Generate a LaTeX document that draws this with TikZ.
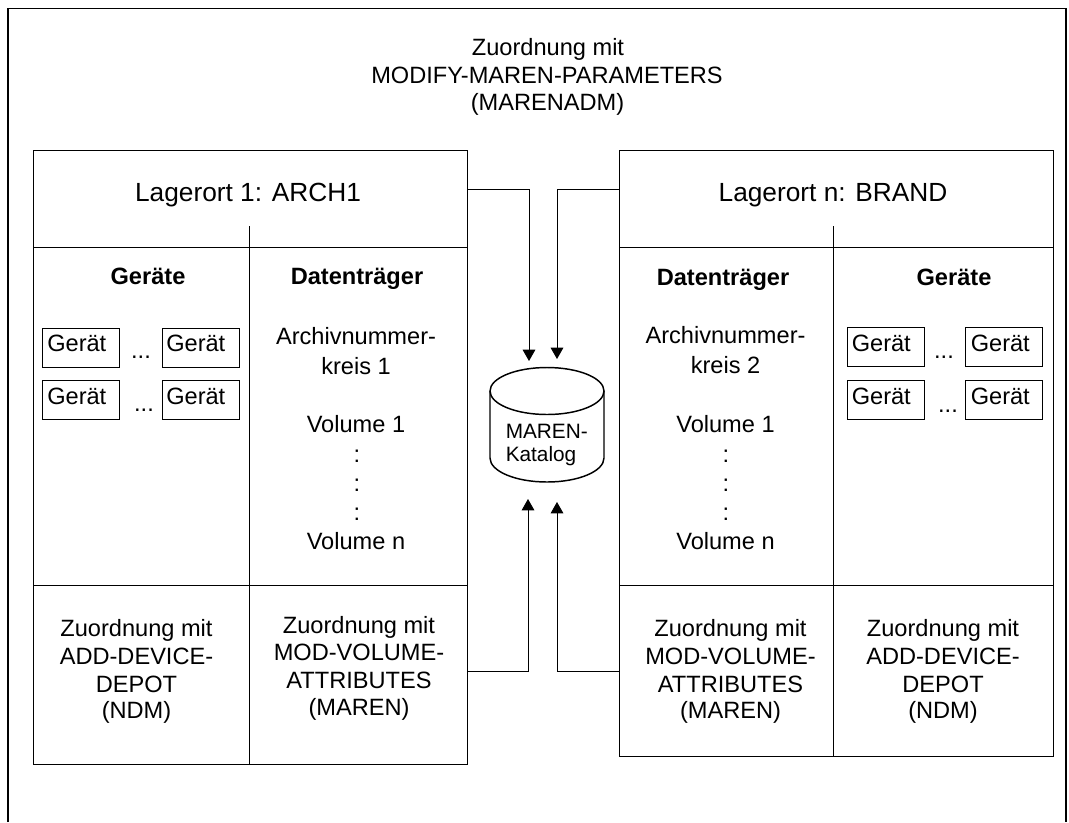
\documentclass[tikz,border=0pt]{standalone}
\usepackage{fontspec}
\setmainfont{Liberation Sans}
\usetikzlibrary{arrows.meta}
\tikzset{
  x=0.75pt,y=-0.75pt,
  cell/.style 2 args={draw=black,line width=0.75pt,minimum width=#1*0.75pt,minimum height=#2*0.75pt,inner sep=0pt,outer sep=0pt},
  geraet/.style={draw=black,line width=0.6pt,minimum width=77*0.75pt,minimum height=39*0.75pt,inner sep=0pt,outer sep=0pt},
  big/.style={font=\fontsize{19.7pt}{24pt}\selectfont,inner sep=0pt,anchor=base},
  txt/.style={font=\fontsize{17.7pt}{21pt}\selectfont,inner sep=0pt,anchor=base},
  boldtxt/.style={font=\fontsize{17.7pt}{21pt}\selectfont\bfseries,inner sep=0pt,anchor=base},
  gtxt/.style={font=\fontsize{17.7pt}{21pt}\selectfont,inner sep=0pt,anchor=base west},
  smalltxt/.style={font=\fontsize{15.6pt}{18pt}\selectfont,inner sep=0pt,anchor=base west},
  conn/.style={draw=black,line width=0.7pt},
  arr/.style={conn,-{Triangle[length=8.5pt,width=9.5pt]}},
  cyl/.style={draw=black,line width=1.1pt},
}
\begin{document}
\begin{tikzpicture}
\useasboundingbox (0,0) rectangle (1069,822);
\fill[white] (0,0) rectangle (1069,822);
% frame
\coordinate (fbl) at (8,822);
\coordinate (ftl) at (8,8.5);
\coordinate (ftr) at (1066,8.5);
\coordinate (fbr) at (1066,822);
\draw[line width=0.9pt] (fbl) -- (ftl) -- (ftr) -- (fbr);
% title
\node[txt] (t1) at (548,55) {Zuordnung mit};
\node[txt] (t2) at (547,83) {MODIFY-MAREN-PARAMETERS};
\node[txt] (t3) at (547.5,110) {(MARENADM)};
% left block
\node[cell={434}{97}] (lagerL) at (250,198.5) {};
\node[cell={216}{338}] (gerL) at (141,416) {};
\node[cell={218}{338}] (datL) at (358,416) {};
\node[cell={216}{179}] (zuGL) at (141,674.5) {};
\node[cell={218}{179}] (zuDL) at (358,674.5) {};
\draw[conn] (gerL.north east) -- ++(0,-21);
\node[big] (lL) at (248,201) {Lagerort 1: ARCH1};
\node[boldtxt] (hGL) at (148,284) {Geräte};
\node[boldtxt] (hDL) at (357,284) {Datenträger};
\node[geraet] (g1) at (81,347.5) {};
\node[geraet] (g2) at (200.5,347.5) {};
\node[geraet] (g3) at (81,400) {};
\node[geraet] (g4) at (200.5,400) {};
\node[gtxt] at (47,351) {Gerät};
\node[gtxt] at (166,351) {Gerät};
\node[gtxt] at (47,404) {Gerät};
\node[gtxt] at (166,404) {Gerät};
\node[txt] at (141,358) {...};
\node[txt] at (144,411) {...};
\node[txt] at (356,344) {Archivnummer-};
\node[txt] at (356,374) {kreis 1};
\node[txt] at (356,432) {Volume 1};
\node[txt] at (357,462) {:};
\node[txt] at (357,491) {:};
\node[txt] at (357,520) {:};
\node[txt] at (356,549) {Volume n};
\node[txt] at (136.5,636) {Zuordnung mit};
\node[txt] at (136.5,664) {ADD-DEVICE-};
\node[txt] at (136.5,692) {DEPOT};
\node[txt] at (136.5,718) {(NDM)};
\node[txt] at (359,633) {Zuordnung mit};
\node[txt] at (359,660) {MOD-VOLUME-};
\node[txt] at (359,688) {ATTRIBUTES};
\node[txt] at (359,715) {(MAREN)};
% right block
\node[cell={434}{97}] (lagerR) at (836,198.5) {};
\node[cell={214}{338}] (datR) at (726,416) {};
\node[cell={220}{338}] (gerR) at (943,416) {};
\node[cell={214}{171}] (zuDR) at (726,670.5) {};
\node[cell={220}{171}] (zuGR) at (943,670.5) {};
\draw[conn] (gerR.north west) -- ++(0,-21);
\node[big] (lR) at (833,201) {Lagerort n: BRAND};
\node[boldtxt] (hDR) at (723,285) {Datenträger};
\node[boldtxt] (hGR) at (954,285) {Geräte};
\node[geraet] (g5) at (885.5,347) {};
\node[geraet] (g6) at (1003.5,347) {};
\node[geraet] (g7) at (885.5,400) {};
\node[geraet] (g8) at (1003.5,400) {};
\node[gtxt] at (851.5,351) {Gerät};
\node[gtxt] at (970.5,351) {Gerät};
\node[gtxt] at (851.5,404) {Gerät};
\node[gtxt] at (970.5,404) {Gerät};
\node[txt] at (944,358) {...};
\node[txt] at (948,412) {...};
\node[txt] at (725.5,343) {Archivnummer-};
\node[txt] at (725.5,373) {kreis 2};
\node[txt] at (725.5,432) {Volume 1};
\node[txt] at (726,462) {:};
\node[txt] at (726,491) {:};
\node[txt] at (726,520) {:};
\node[txt] at (725.5,549) {Volume n};
\node[txt] at (730.5,636) {Zuordnung mit};
\node[txt] at (730.5,664) {MOD-VOLUME-};
\node[txt] at (730.5,692) {ATTRIBUTES};
\node[txt] at (730.5,718) {(MAREN)};
\node[txt] at (943,636) {Zuordnung mit};
\node[txt] at (943,664) {ADD-DEVICE-};
\node[txt] at (943,692) {DEPOT};
\node[txt] at (943,718) {(NDM)};
% catalogue
\draw[cyl] (490,391) arc[start angle=180,end angle=-180,x radius=57,y radius=23.5];
\draw[cyl] (490,391) -- (490,458) arc[start angle=180,end angle=360,x radius=57,y radius=-24] -- (604,391);
\node[smalltxt] (kat1) at (505.5,438) {MAREN-};
\node[smalltxt] (kat2) at (505.5,461) {Katalog};
% connectors
\coordinate (tipA) at (529,361);
\coordinate (tipB) at (557,359);
\coordinate (tipC) at (528,499);
\coordinate (tipD) at (557,502);
\coordinate (levU) at (0,189);
\coordinate (levD) at (0,671);
\draw[arr] (lagerL.east |- levU) -| (tipA);
\draw[arr] (lagerR.west |- levU) -| (tipB);
\draw[arr] (zuDL.east |- levD) -| (tipC);
\draw[arr] (zuDR.west |- levD) -| (tipD);
\end{tikzpicture}
\end{document}
